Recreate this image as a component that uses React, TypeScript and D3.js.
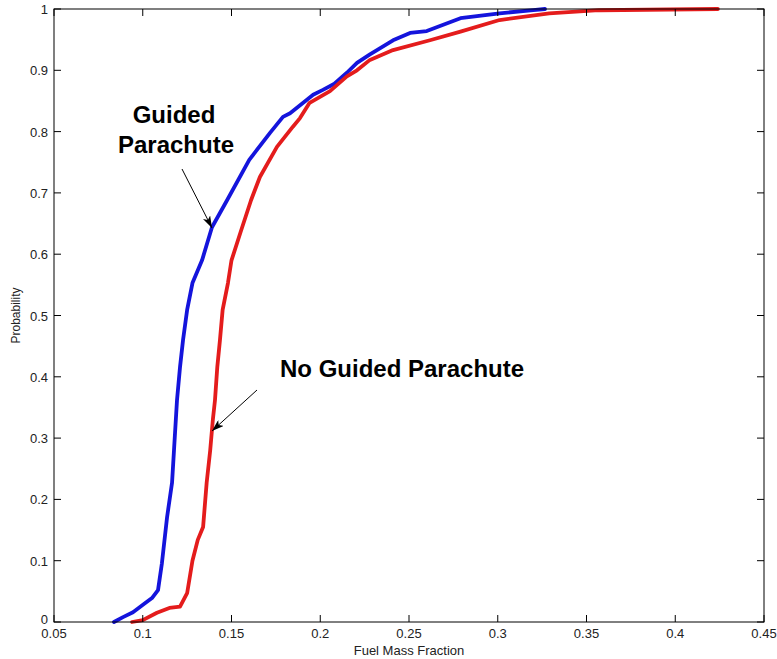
import React from "react";
import * as d3 from "d3";

const guidedX = [0.0838, 0.0889, 0.0945, 0.1001, 0.1052, 0.1086, 0.1108, 0.1137, 0.1165, 0.1176, 0.1193, 0.121, 0.1227, 0.125, 0.128, 0.1334, 0.139, 0.1475, 0.16, 0.1717, 0.179, 0.183, 0.1925, 0.196, 0.2015, 0.208, 0.215, 0.2207, 0.228, 0.241, 0.2506, 0.26, 0.279, 0.301, 0.32, 0.3266];
const guidedP = [0, 0.008, 0.016, 0.028, 0.039, 0.052, 0.096, 0.171, 0.227, 0.28, 0.362, 0.416, 0.46, 0.509, 0.553, 0.59, 0.644, 0.688, 0.754, 0.798, 0.824, 0.83, 0.852, 0.86, 0.868, 0.878, 0.896, 0.912, 0.926, 0.949, 0.961, 0.964, 0.985, 0.993, 0.998, 1.0];

const noGuidedX = [0.094, 0.1, 0.108, 0.115, 0.121, 0.125, 0.128, 0.131, 0.134, 0.136, 0.138, 0.1395, 0.1407, 0.142, 0.1435, 0.145, 0.148, 0.15, 0.155, 0.161, 0.166, 0.1756, 0.1846, 0.1886, 0.194, 0.2055, 0.215, 0.2207, 0.228, 0.241, 0.2618, 0.279, 0.301, 0.329, 0.357, 0.424];
const noGuidedP = [0, 0.003, 0.015, 0.023, 0.025, 0.047, 0.1, 0.134, 0.155, 0.227, 0.28, 0.33, 0.362, 0.416, 0.46, 0.509, 0.553, 0.59, 0.635, 0.688, 0.726, 0.775, 0.808, 0.822, 0.847, 0.866, 0.89, 0.9, 0.917, 0.933, 0.949, 0.963, 0.982, 0.993, 0.998, 1.0];

const xTicks = [0.05, 0.1, 0.15, 0.2, 0.25, 0.3, 0.35, 0.4, 0.45];
const xTickLabels = ["0.05", "0.1", "0.15", "0.2", "0.25", "0.3", "0.35", "0.4", "0.45"];
const yTicks = [0, 0.1, 0.2, 0.3, 0.4, 0.5, 0.6, 0.7, 0.8, 0.9, 1];
const yTickLabels = ["0", "0.1", "0.2", "0.3", "0.4", "0.5", "0.6", "0.7", "0.8", "0.9", "1"];

const W = 777;
const H = 659;
const L = 54, R = 764, T = 9, B = 622;
const TICK = 7;
const FONT = "Arial, 'Liberation Sans', Helvetica, sans-serif";

export default function App() {
  const x = d3.scaleLinear().domain([0.05, 0.45]).range([L, R]);
  const y = d3.scaleLinear().domain([0, 1]).range([B, T]);
  const line = d3.line<[number, number]>().x((d) => x(d[0])).y((d) => y(d[1]));
  const guided: [number, number][] = guidedX.map((v, i) => [v, guidedP[i]]);
  const noGuided: [number, number][] = noGuidedX.map((v, i) => [v, noGuidedP[i]]);

  return (
    <svg width={W} height={H} style={{ position: "absolute", left: 0, top: 0, background: "#fff" }} fontFamily={FONT}>
      <defs>
        <marker id="ah" viewBox="0 0 12 8" refX="12" refY="4" markerWidth="12" markerHeight="8" markerUnits="userSpaceOnUse" orient="auto">
          <path d="M0,0 L12,4 L0,8 L3,4 Z" fill="#000" />
        </marker>
      </defs>
      <rect x={0} y={0} width={W} height={H} fill="#fff" />
      <path d={line(guided) || ""} fill="none" stroke="#1414dc" strokeWidth={3.8} strokeLinejoin="round" strokeLinecap="round" />
      <path d={line(noGuided) || ""} fill="none" stroke="#e41c1c" strokeWidth={3.8} strokeLinejoin="round" strokeLinecap="round" />
      <rect x={L} y={T} width={R - L} height={B - T} fill="none" stroke="#000" strokeWidth={1} />
      {xTicks.map((t, i) => (
        <g key={"x" + i}>
          <line x1={x(t)} x2={x(t)} y1={B} y2={B - TICK} stroke="#000" />
          <line x1={x(t)} x2={x(t)} y1={T} y2={T + TICK} stroke="#000" />
          <text x={x(t)} y={638} textAnchor="middle" fontSize={13} fill="#222">{xTickLabels[i]}</text>
        </g>
      ))}
      {yTicks.map((t, i) => (
        <g key={"y" + i}>
          <line x1={L} x2={L + TICK} y1={y(t)} y2={y(t)} stroke="#000" />
          <line x1={R} x2={R - TICK} y1={y(t)} y2={y(t)} stroke="#000" />
          <text x={48} y={y(t) + (i === 0 ? 2 : 5)} textAnchor="end" fontSize={13} fill="#222">{yTickLabels[i]}</text>
        </g>
      ))}
      <text x={(L + R) / 2} y={655} textAnchor="middle" fontSize={13} fill="#222">Fuel Mass Fraction</text>
      <text transform={`translate(20,${(T + B) / 2}) rotate(-90)`} textAnchor="middle" fontSize={12} fill="#222">Probability</text>

      <text x={174} y={123} textAnchor="middle" fontSize={24} fontWeight="bold" fill="#000">Guided</text>
      <text x={176} y={153} textAnchor="middle" fontSize={24} fontWeight="bold" fill="#000">Parachute</text>
      <line x1={182} y1={169} x2={212} y2={228} stroke="#000" strokeWidth={1} markerEnd="url(#ah)" />

      <text x={280} y={377} fontSize={24} fontWeight="bold" fill="#000">No Guided Parachute</text>
      <line x1={257} y1={390} x2={212} y2={431} stroke="#000" strokeWidth={1} markerEnd="url(#ah)" />
    </svg>
  );
}
